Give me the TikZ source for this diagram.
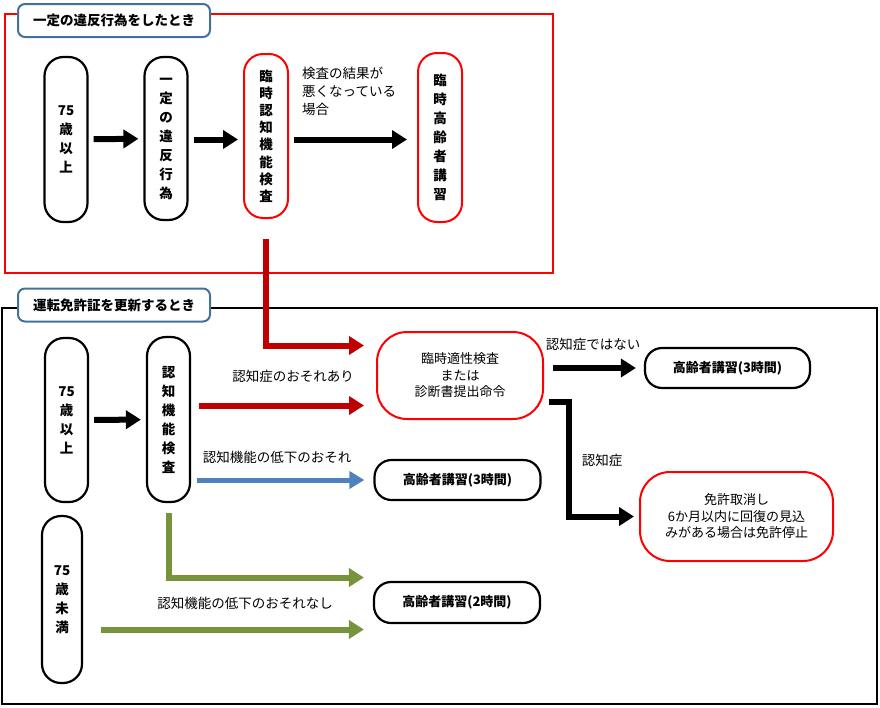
\documentclass[tikz,border=0pt]{standalone}
\usepackage{fontspec}
\setmainfont{Noto Sans CJK JP}
\usetikzlibrary{arrows.meta}
\definecolor{darkred}{HTML}{C00000}
\definecolor{lineblue}{HTML}{4F81BD}
\definecolor{linegreen}{HTML}{77933C}
\definecolor{titleblue}{HTML}{41719C}
\definecolor{brightred}{HTML}{FF0000}
\begin{document}
\begin{tikzpicture}[x=1pt,y=-1pt]
        \tikzstyle{pill_style} = [draw=black, line width=2.2pt, rounded corners=19pt, fill=white, align=center, font=\bfseries\fontsize{13.5}{19}\selectfont, minimum width=43pt, inner sep=0pt]
        \tikzstyle{box_style} = [draw=black, line width=2.2pt, rounded corners=17pt, fill=white, align=center, font=\bfseries\fontsize{13}{16}\selectfont, minimum width=166pt, minimum height=40pt]
        \tikzstyle{red_box_style} = [draw=brightred, line width=2pt, rounded corners=30pt, fill=white, align=center, font=\fontsize{13}{16.5}\selectfont]
        \tikzstyle{title_style} = [draw=titleblue, line width=2pt, rounded corners=7pt, fill=white, font=\bfseries\fontsize{13.5}{15}\selectfont, minimum width=192pt, minimum height=33pt]
        \tikzstyle{label_style} = [font=\fontsize{13.5}{18}\selectfont, inner sep=0pt]
        \tikzstyle{black_arrow} = [draw=black, line width=6pt, -{Triangle[width=18pt,length=15pt]}, shorten <=5pt, shorten >=5pt]
        \tikzstyle{red_arrow} = [draw=darkred, line width=6pt, -{Triangle[width=18pt,length=15pt]}]
        \tikzstyle{blue_arrow} = [draw=lineblue, line width=5pt, -{Triangle[width=17pt,length=15pt]}]
        \tikzstyle{green_arrow} = [draw=linegreen, line width=6pt, -{Triangle[width=18pt,length=15pt]}]
        \useasboundingbox (0,0) rectangle (880,707);
        % frames
        \draw[brightred, line width=2pt] (5,14) rectangle (553,273);
        \draw[black, line width=2pt] (2,308) rectangle (877,704);
        \node[title_style] (t1) at (114,20.5) {一定の違反行為をしたとき};
        \node[title_style] (t2) at (114,305) {運転免許証を更新するとき};
        % violation
        \node[pill_style, minimum height=165pt] (v1) at (66,139.5) {75\\歳\\以\\上};
        \node[pill_style, minimum height=163pt] (v2) at (166,138.5) {一\\定\\の\\違\\反\\行\\為};
        \node[pill_style, draw=brightred, line width=2pt, minimum width=44pt, minimum height=164pt, font=\bfseries\fontsize{13.5}{17.2}\selectfont] (v3) at (266,136) {臨\\時\\認\\知\\機\\能\\検\\査};
        \node[pill_style, draw=brightred, line width=2pt, minimum width=44pt, minimum height=169pt] (v4) at (440,137.5) {臨\\時\\高\\齢\\者\\講\\習};
        \draw[black_arrow] (v1) -- (v2);
        \draw[black_arrow] (v2.east |- v1.east) -- (v3.west |- v1.east);
        \draw[black_arrow, shorten >=10pt] (v3.east |- v1.east) -- (v4.west |- v1.east);
        \node[label_style, anchor=north west, align=left] (l1) at (302,67) {検査の結果が\\悪くなっている\\場合};
        % renewal
        \node[pill_style, minimum height=164pt] (w1) at (66.5,420) {75\\歳\\以\\上};
        \node[pill_style, minimum height=165pt] (w2) at (168.5,419.5) {認\\知\\機\\能\\検\\査};
        \node[pill_style, minimum width=40pt, minimum height=167pt] (u1) at (62,599.5) {75\\歳\\未\\満};
        \node[red_box_style, minimum width=166pt, minimum height=87pt] (d) at (460,375.5) {臨時適性検査\\または\\診断書提出命令};
        \node[box_style] (e) at (457.5,480) {高齢者講習(3時間)};
        \node[box_style, minimum height=41pt] (f) at (457,602.5) {高齢者講習(2時間)};
        \node[box_style, minimum width=165pt] (g) at (727.5,368) {高齢者講習(3時間)};
        \node[red_box_style, minimum width=193pt, minimum height=89pt] (h) at (736.5,516.5) {免許取消し\\6か月以内に回復の見込\\みがある場合は免許停止};
        \draw[black_arrow] (w1) -- (w2);
        \draw[red_arrow, shorten <=20pt, shorten >=12pt] (v3.south) |- ([yshift=30pt]d.west);
        \draw[red_arrow, shorten <=8pt, shorten >=12pt] ([yshift=14pt]w2.east) -- ([yshift=-30pt]d.west);
        \draw[blue_arrow, shorten <=6pt, shorten >=9pt] (w2.east |- e.west) -- (e.west);
        \draw[green_arrow, shorten <=10pt, shorten >=9pt] (w2.south) |- ([yshift=25pt]f.west);
        \draw[green_arrow, shorten <=18pt, shorten >=9pt] ([yshift=-30pt]u1.east) -- ([yshift=-27pt]f.west);
        \draw[black_arrow, shorten <=9pt, shorten >=8pt] (d.east |- g.west) -- (g.west);
        \draw[black_arrow, shorten >=5pt] ([yshift=-26pt]d.east) -- ++(25,0) |- (h.west);
        \node[label_style] (l2) at (293,376) {認知症のおそれあり};
        \node[label_style] (l3) at (277,457) {認知機能の低下のおそれ};
        \node[label_style] (l4) at (245,603) {認知機能の低下のおそれなし};
        \node[label_style] (l5) at (593,344) {認知症ではない};
        \node[label_style] (l6) at (602,460) {認知症};
      \end{tikzpicture}
\end{document}
